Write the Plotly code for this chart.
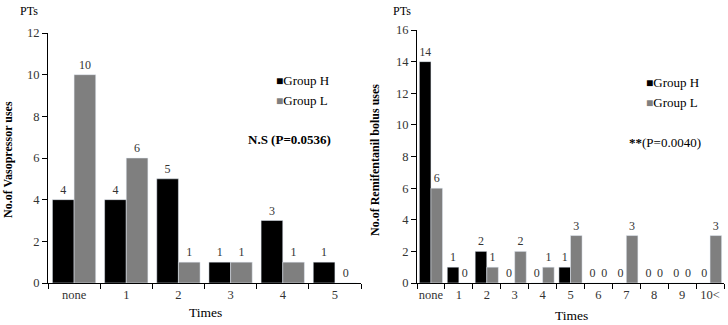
import plotly.graph_objects as go

# Left chart: vasopressor uses
cats_left = ["none", "1", "2", "3", "4", "5"]
vaso_h = [4, 4, 5, 1, 3, 1]
vaso_l = [10, 6, 1, 1, 1, 0]

# Right chart: remifentanil bolus uses
cats_right = ["none", "1", "2", "3", "4", "5", "6", "7", "8", "9", "10<"]
remi_h = [14, 1, 2, 0, 0, 1, 0, 0, 0, 0, 0]
remi_l = [6, 0, 1, 2, 1, 3, 0, 3, 0, 0, 3]

FONT = "Liberation Serif"
H_COLOR = "#000000"
L_COLOR = "#7f7f7f"
W, H = 728, 325

def px_x(p):
    return p / W

def px_y(p):
    return 1 - p / H

fig = go.Figure()

LABEL_FONT = dict(family=FONT, size=12, color="#333333")

def add_bars(x, yh, yl, xa, ya):
    fig.add_trace(go.Bar(x=x, y=yh, name="Group H", marker_color=H_COLOR,
                         text=[str(v) for v in yh], textposition="outside",
                         textfont=LABEL_FONT, outsidetextfont=LABEL_FONT,
                         cliponaxis=False, xaxis=xa, yaxis=ya, showlegend=False))
    fig.add_trace(go.Bar(x=x, y=yl, name="Group L", marker_color=L_COLOR,
                         text=[str(v) for v in yl], textposition="outside",
                         textfont=LABEL_FONT, outsidetextfont=LABEL_FONT,
                         cliponaxis=False, xaxis=xa, yaxis=ya, showlegend=False))

add_bars(cats_left, vaso_h, vaso_l, "x", "y")
add_bars(cats_right, remi_h, remi_l, "x2", "y2")

axis_common = dict(showline=True, linecolor="#000", linewidth=1, ticks="outside",
                   ticklen=5, tickcolor="#000", showgrid=False, zeroline=False,
                   automargin=False,
                   tickfont=dict(family=FONT, size=12.5, color="#333"))

def ann(text, x, y, anchor="left", size=13):
    return dict(text=text, x=px_x(x), y=px_y(y), xref="paper", yref="paper",
                xanchor=anchor, yanchor="middle", showarrow=False,
                font=dict(family=FONT, size=size, color="#000"))

def legend_ann(x, y, color, label):
    return ann(f"<span style='color:{color};font-size:12px'>■</span>{label}", x, y)

fig.update_layout(
    width=W, height=H,
    margin=dict(l=0, r=0, t=0, b=0),
    paper_bgcolor="white", plot_bgcolor="white",
    barmode="group",
    bargap=0.17, bargroupgap=0,
    font=dict(family=FONT, size=12, color="#000"),
    showlegend=False,
    xaxis=dict(domain=[px_x(48), px_x(361)], anchor="y", tickson="boundaries",
               tickangle=0, **axis_common),
    yaxis=dict(domain=[px_y(283), px_y(33)], anchor="x", range=[0, 12], dtick=2,
               **axis_common),
    xaxis2=dict(domain=[px_x(417), px_x(724)], anchor="y2", tickson="boundaries",
                tickangle=0, type="category", **axis_common),
    yaxis2=dict(domain=[px_y(283), px_y(30)], anchor="x2", range=[0, 16], dtick=2,
                **axis_common),
    annotations=[
        ann("PTs", 18, 11, size=12),
        ann("PTs", 391, 11, size=12),
        ann("Times", 205, 312, anchor="center", size=13.5),
        ann("Times", 571, 315, anchor="center", size=13.5),
        dict(text="<b>No.of Vasopressor uses</b>", x=px_x(8), y=px_y(160), xref="paper",
             yref="paper", xanchor="center", yanchor="middle", textangle=-90,
             showarrow=False, font=dict(family=FONT, size=12, color="#000")),
        dict(text="<b>No.of Remifentanil bolus uses</b>", x=px_x(375), y=px_y(160), xref="paper",
             yref="paper", xanchor="center", yanchor="middle", textangle=-90,
             showarrow=False, font=dict(family=FONT, size=12, color="#000")),
        legend_ann(274, 80, H_COLOR, "Group H"),
        legend_ann(274, 100, L_COLOR, "Group L"),
        legend_ann(644, 82, H_COLOR, "Group H"),
        legend_ann(644, 103, L_COLOR, "Group L"),
        ann("<b>N.S (P=0.0536)</b>", 333, 139, anchor="right"),
        ann("<b>**</b>(P=0.0040)", 703, 142, anchor="right"),
    ],
)

fig.write_html("out.html", config={"displayModeBar": False},
               post_script="document.body.style.margin='0';document.body.style.overflow='hidden';")
